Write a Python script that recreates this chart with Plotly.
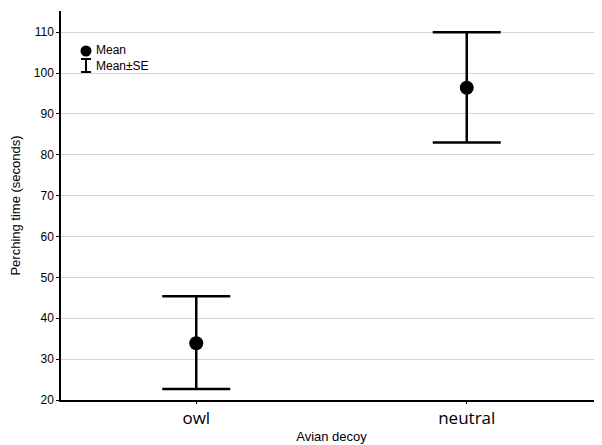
import plotly.graph_objects as go

categories = ["owl", "neutral"]
means = [33.9, 96.4]
upper = [45.4, 110.0]
lower = [22.7, 83.0]
y_ticks = [20, 30, 40, 50, 60, 70, 80, 90, 100, 110]

err_plus = [u - m for u, m in zip(upper, means)]
err_minus = [m - l for m, l in zip(means, lower)]

narrow = "Liberation Sans Narrow, Arial Narrow, Liberation Sans, Arial, sans-serif"

# plot area in page pixels (page has an 8px body margin)
PL, PT, PW, PH = 61, 11, 541, 389


def px(x):
    return (x - PL) / PW


def py(y):
    return (PT + PH - y) / PH


fig = go.Figure()
fig.add_trace(go.Scatter(
    x=categories, y=means, mode="markers",
    marker=dict(color="black", size=14),
    error_y=dict(type="data", symmetric=False, array=err_plus, arrayminus=err_minus,
                 color="black", thickness=2.5, width=34),
    showlegend=False,
))

# legend (manual)
fig.add_shape(type="circle", xref="paper", yref="paper",
              x0=px(80.5), x1=px(91.5), y0=py(56.5), y1=py(45.5),
              fillcolor="black", line=dict(color="black", width=0))
fig.add_shape(type="line", xref="paper", yref="paper",
              x0=px(86), x1=px(86), y0=py(72), y1=py(59), line=dict(color="black", width=2))
fig.add_shape(type="line", xref="paper", yref="paper",
              x0=px(81), x1=px(91), y0=py(59), y1=py(59), line=dict(color="black", width=2))
fig.add_shape(type="line", xref="paper", yref="paper",
              x0=px(81), x1=px(91), y0=py(72), y1=py(72), line=dict(color="black", width=2))
fig.add_annotation(xref="paper", yref="paper", x=px(94), y=py(50),
                   text="Mean", showarrow=False, xanchor="left", yanchor="middle",
                   font=dict(family=narrow, size=12, color="black"))
fig.add_annotation(xref="paper", yref="paper", x=px(94), y=py(66),
                   text="Mean±SE", showarrow=False, xanchor="left", yanchor="middle",
                   font=dict(family=narrow, size=12, color="black"))

fig.update_layout(
    width=594, height=437,
    margin=dict(l=53, r=0, t=3, b=45),
    plot_bgcolor="white", paper_bgcolor="white",
    xaxis=dict(
        type="category", range=[-0.5, 1.5],
        showgrid=False, showline=True, linecolor="black", linewidth=1.5,
        ticks="outside", ticklen=2, tickcolor="black",
        tickfont=dict(family="Open Sans, sans-serif", size=17, color="black"),
        title=dict(text="Avian decoy", standoff=4,
                   font=dict(family=narrow, size=13, color="black")),
        zeroline=False,
    ),
    yaxis=dict(
        range=[20, 115.2], tickvals=y_ticks,
        showgrid=True, gridcolor="#d4d4d4", gridwidth=1,
        showline=True, linecolor="black", linewidth=1.5,
        ticks="outside", ticklen=3, tickcolor="black",
        tickfont=dict(family=narrow, size=12, color="black"),
        title=dict(text="Perching time (seconds)", standoff=12,
                   font=dict(family=narrow, size=13, color="black")),
        zeroline=False,
    ),
)

fig.write_html("out.html")
